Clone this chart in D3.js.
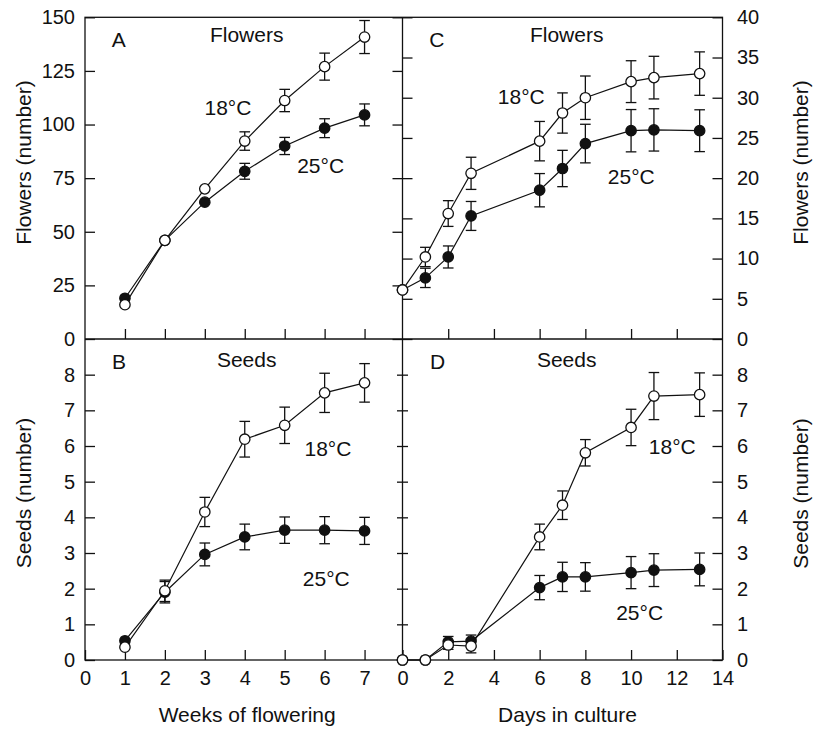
<!DOCTYPE html>
<html>
<head>
<meta charset="utf-8">
<script src="https://cdn.jsdelivr.net/npm/d3@7"></script>
<style>
  html, body { margin: 0; padding: 0; background: #fff; }
  svg { display: block; }
  text { font-family: "Liberation Sans", Arial, Helvetica, sans-serif; font-size: 21px; fill: #111; }
</style>
</head>
<body>
<svg id="chart" width="813" height="731"></svg>
<script>
// ---- data ----
const weeks = [1, 2, 3, 4, 5, 6, 7];
const days = [0, 1, 2, 3, 6, 7, 8, 10, 11, 13];

// A: flowers per plant vs weeks of flowering
const flowersWeeks18 = [16, 46, 70, 92.3, 111.2, 127, 140.8];
const flowersWeeks18Err = [0, 0, 0, 4.3, 5.2, 6.3, 7.7];
const flowersWeeks25 = [19, 46, 63.8, 78.2, 90, 98.3, 104.5];
const flowersWeeks25Err = [0, 0, 0, 3.7, 4.0, 4.4, 5.1];

// B: seeds per plant vs weeks of flowering
const seedsWeeks18 = [0.36, 1.94, 4.15, 6.19, 6.58, 7.49, 7.77];
const seedsWeeks18Err = [0, 0.3, 0.41, 0.5, 0.51, 0.55, 0.54];
const seedsWeeks25 = [0.54, 1.9, 2.96, 3.45, 3.64, 3.64, 3.62];
const seedsWeeks25Err = [0, 0.3, 0.32, 0.36, 0.37, 0.38, 0.38];

// C: flowers vs days in culture
const flowersDays18 = [6.1, 10.2, 15.6, 20.6, 24.6, 28.1, 30.0, 32.0, 32.5, 33.0];
const flowersDays18Err = [0, 1.2, 1.6, 2.0, 2.45, 2.5, 2.7, 2.6, 2.65, 2.7];
const flowersDays25 = [6.1, 7.6, 10.2, 15.3, 18.5, 21.2, 24.3, 25.9, 26.0, 25.9];
const flowersDays25Err = [0, 1.2, 1.37, 1.8, 2.07, 2.26, 2.4, 2.63, 2.63, 2.6];

// D: seeds vs days in culture
const seedsDays18 = [0, 0, 0.42, 0.39, 3.45, 4.34, 5.81, 6.52, 7.40, 7.44];
const seedsDays18Err = [0, 0, 0.12, 0.19, 0.36, 0.4, 0.37, 0.51, 0.66, 0.61];
const seedsDays25 = [0, 0, 0.51, 0.53, 2.03, 2.33, 2.33, 2.45, 2.52, 2.54];
const seedsDays25Err = [0, 0, 0.15, 0.17, 0.34, 0.41, 0.4, 0.45, 0.46, 0.46];

// tick values
const flowersWeekTicks = [0, 25, 50, 75, 100, 125, 150];
const flowersDayTicks = [0, 5, 10, 15, 20, 25, 30, 35, 40];
const seedTicks = [0, 1, 2, 3, 4, 5, 6, 7, 8];
const weekTicks = [0, 1, 2, 3, 4, 5, 6, 7];
const dayTicks = [0, 2, 4, 6, 8, 10, 12, 14];

// labels
const panelLetters = ["A", "B", "C", "D"];
const panelTitles = ["Flowers", "Seeds", "Flowers", "Seeds"];
const tempLabels = ["18°C", "25°C"];
const xTitles = ["Weeks of flowering", "Days in culture"];
const yTitles = ["Flowers (number)", "Seeds (number)"];

// ---- layout ----
const X0 = 85, XM = 402.5, X1 = 722.5;
const Y0 = 17.3, YM = 339, Y1 = 660;
const ink = "#111";

const svg = d3.select("#chart");

const xWeek = d3.scaleLinear().domain([0, 7.95]).range([X0, XM]);
const xDay = d3.scaleLinear().domain([0, 14]).range([XM, X1]);
const yFlowA = d3.scaleLinear().domain([0, 150]).range([YM, Y0]);
const yFlowC = d3.scaleLinear().domain([0, 40]).range([YM, Y0]);
const ySeed = d3.scaleLinear().domain([0, 9]).range([Y1, YM]);

function styleAxis(g) {
  g.select(".domain").remove();
  g.selectAll(".tick line").attr("stroke", ink).attr("stroke-width", 1.3);
  g.selectAll(".tick text").attr("fill", ink).style("font-size", "20px")
    .style("font-family", "'Liberation Sans', Arial, sans-serif");
}

function addAxis(axis, tx, ty) {
  svg.append("g").attr("transform", `translate(${tx},${ty})`).call(axis).call(styleAxis);
}
const noLabel = () => "";

// left axes
addAxis(d3.axisLeft(yFlowA).tickValues(flowersWeekTicks).tickSize(-10).tickPadding(10), X0, 0);
addAxis(d3.axisLeft(ySeed).tickValues(seedTicks).tickSize(-10).tickPadding(10), X0, 0);
// middle divider ticks
addAxis(d3.axisRight(yFlowA).tickValues(flowersWeekTicks).tickSize(-10).tickFormat(noLabel), XM, 0);
addAxis(d3.axisLeft(yFlowC).tickValues(flowersDayTicks).tickSize(-10).tickFormat(noLabel), XM, 0);
addAxis(d3.axisRight(ySeed).tickValues(seedTicks).tickSize(-5.5).tickFormat(noLabel), XM, 0);
addAxis(d3.axisLeft(ySeed).tickValues(seedTicks).tickSize(-5.5).tickFormat(noLabel), XM, 0);
// right axes
addAxis(d3.axisRight(yFlowC).tickValues(flowersDayTicks).tickSize(-10).tickPadding(14.5), X1, 0);
addAxis(d3.axisRight(ySeed).tickValues(seedTicks).tickSize(-10).tickPadding(14.5), X1, 0);
// x axes on the middle line (ticks only)
addAxis(d3.axisBottom(xWeek).tickValues(weeks).tickSize(-10).tickFormat(noLabel), 0, YM);
addAxis(d3.axisBottom(xDay).tickValues(dayTicks.slice(1, -1)).tickSize(-10).tickFormat(noLabel), 0, YM);
// bottom x axes with labels
addAxis(d3.axisBottom(xWeek).tickValues(weekTicks).tickSize(-10).tickPadding(11), 0, Y1);
addAxis(d3.axisBottom(xDay).tickValues(dayTicks).tickSize(-10).tickPadding(11), 0, Y1);

// frame and dividers
const frame = svg.append("g").attr("fill", "none").attr("stroke", ink).attr("stroke-width", 1.3);
frame.append("rect").attr("x", X0).attr("y", Y0).attr("width", X1 - X0).attr("height", Y1 - Y0);
frame.append("line").attr("x1", XM).attr("x2", XM).attr("y1", Y0).attr("y2", Y1);
frame.append("line").attr("x1", X0).attr("x2", X1).attr("y1", YM).attr("y2", YM);

// ---- series ----
function drawSeries(xs, vals, errs, xScale, yScale, filled) {
  const pts = xs.map((x, i) => ({ x: x, y: vals[i], e: errs[i] }));
  const g = svg.append("g");
  g.append("path")
    .datum(pts)
    .attr("fill", "none")
    .attr("stroke", ink)
    .attr("stroke-width", 1.2)
    .attr("d", d3.line().x(d => xScale(d.x)).y(d => yScale(d.y)));
  const eb = g.append("g").attr("stroke", ink).attr("stroke-width", 1.3);
  pts.filter(d => d.e > 0).forEach(d => {
    const cx = xScale(d.x), top = yScale(d.y + d.e), bot = yScale(d.y - d.e);
    eb.append("line").attr("x1", cx).attr("x2", cx).attr("y1", top).attr("y2", bot);
    eb.append("line").attr("x1", cx - 5.3).attr("x2", cx + 5.3).attr("y1", top).attr("y2", top);
    eb.append("line").attr("x1", cx - 5.3).attr("x2", cx + 5.3).attr("y1", bot).attr("y2", bot);
  });
  g.selectAll("circle")
    .data(pts)
    .join("circle")
    .attr("cx", d => xScale(d.x))
    .attr("cy", d => yScale(d.y))
    .attr("r", 5.2)
    .attr("fill", filled ? ink : "#fff")
    .attr("stroke", ink)
    .attr("stroke-width", 1.3);
}

// 25 °C (filled) first, 18 °C (open) on top
drawSeries(weeks, flowersWeeks25, flowersWeeks25Err, xWeek, yFlowA, true);
drawSeries(weeks, flowersWeeks18, flowersWeeks18Err, xWeek, yFlowA, false);
drawSeries(weeks, seedsWeeks25, seedsWeeks25Err, xWeek, ySeed, true);
drawSeries(weeks, seedsWeeks18, seedsWeeks18Err, xWeek, ySeed, false);
drawSeries(days, flowersDays25, flowersDays25Err, xDay, yFlowC, true);
drawSeries(days, flowersDays18, flowersDays18Err, xDay, yFlowC, false);
drawSeries(days, seedsDays25, seedsDays25Err, xDay, ySeed, true);
drawSeries(days, seedsDays18, seedsDays18Err, xDay, ySeed, false);

// ---- text ----
function label(txt, x, y, anchor) {
  svg.append("text").attr("x", x).attr("y", y).attr("text-anchor", anchor || "start").text(txt);
}
// panel letters
label(panelLetters[0], 111.7, 46.7);
label(panelLetters[1], 112, 369.3);
label(panelLetters[2], 429.3, 46.5);
label(panelLetters[3], 430, 368.5);
// panel titles
label(panelTitles[0], 246.7, 41.7, "middle");
label(panelTitles[1], 246.7, 366.7, "middle");
label(panelTitles[2], 566.7, 41.7, "middle");
label(panelTitles[3], 566.7, 366.7, "middle");
// temperature labels
label(tempLabels[0], 204.5, 115);
label(tempLabels[1], 297.2, 173.3);
label(tempLabels[0], 497.8, 104);
label(tempLabels[1], 607.8, 184);
label(tempLabels[0], 304.5, 455.7);
label(tempLabels[1], 302.8, 586);
label(tempLabels[0], 648.8, 454);
label(tempLabels[1], 616.2, 620);
// axis titles
label(xTitles[0], 247.2, 721.5, "middle");
label(xTitles[1], 567.5, 721.5, "middle");
function vlabel(txt, x, y) {
  svg.append("text").attr("transform", `translate(${x},${y}) rotate(-90)`)
    .attr("text-anchor", "middle").text(txt);
}
vlabel(yTitles[0], 30.7, 162.5);
vlabel(yTitles[1], 30.7, 493);
vlabel(yTitles[0], 808.3, 162.5);
vlabel(yTitles[1], 808.3, 493.5);
</script>
</body>
</html>
